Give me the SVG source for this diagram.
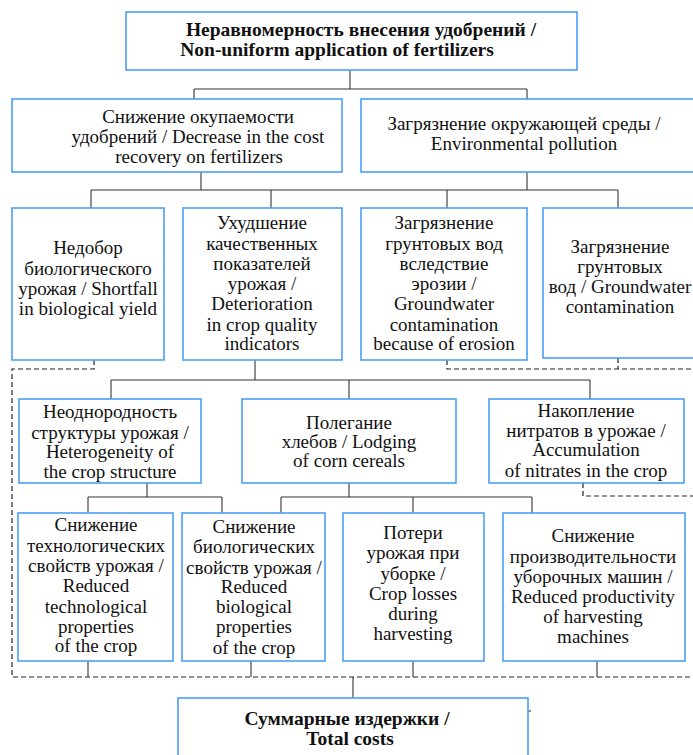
<svg xmlns="http://www.w3.org/2000/svg" width="693" height="755" viewBox="0 0 693 755">
<style>
.box{fill:#fff;stroke:#4a9ff5;stroke-width:1.6}
.t{font-family:"Liberation Serif","Times New Roman",Tinos,"DejaVu Serif",serif;font-size:19px;fill:#111;text-anchor:middle}
.b{font-weight:bold;font-size:19.5px}
.ln{stroke:#333;stroke-width:1.1;fill:none}
.ds{stroke:#222;stroke-width:1.2;fill:none;stroke-dasharray:5,3}
</style>
<rect width="693" height="755" fill="#fff"/>
<g id="connectors">
<path class="ln" d="M350,70V89M194,89H527M194,89V99M527,89V99"/>
<path class="ln" d="M201,172V190M527,172V190M91,190H618M91,190V208M271,190V208M447,190V208M618,190V208"/>
<path class="ln" d="M255,360V380M111,380H590M111,380V399M349,380V399M590,380V399"/>
<path class="ln" d="M147,483V497M88,497H222M88,497V513M222,497V513"/>
<path class="ln" d="M349,483V497M281,497H532M281,497V513M413,497V513M532,497V513"/>
<path class="ln" d="M88,661V677M251,661V677M413,661V677M597,661V677M353,677V698"/>
<path class="ds" d="M94,360V369H12V677H693"/>
<path class="ds" d="M447,360V369H693M618,358V369"/>
<path class="ds" d="M583,483V496H693"/>
<path class="ln" d="M527,711H531"/>
</g>
<g id="n_top">
<rect class="box" x="126" y="12" width="451" height="58"/>
<text class="t b" x="361" y="36">Неравномерность внесения удобрений /</text>
<text class="t b" x="337" y="56">Non-uniform application of fertilizers</text>
</g>
<g id="n_cost">
<rect class="box" x="12" y="99" width="330" height="73"/>
<text class="t" x="198" y="123">Снижение окупаемости</text>
<text class="t" x="198" y="143">удобрений / Decrease in the cost</text>
<text class="t" x="199" y="163">recovery on fertilizers</text>
</g>
<g id="n_env">
<rect class="box" x="361" y="99" width="345" height="73"/>
<text class="t" x="524" y="130">Загрязнение окружающей среды /</text>
<text class="t" x="524" y="150">Environmental pollution</text>
</g>
<g id="n_shortfall">
<rect class="box" x="12" y="208" width="152" height="152"/>
<text class="t" x="88" y="254">Недобор</text>
<text class="t" x="88" y="275">биологического</text>
<text class="t" x="88" y="295">урожая / Shortfall</text>
<text class="t" x="88" y="315">in biological yield</text>
</g>
<g id="n_quality">
<rect class="box" x="183" y="208" width="159" height="152"/>
<text class="t" x="262" y="229">Ухудшение</text>
<text class="t" x="262" y="250">качественных</text>
<text class="t" x="262" y="270">показателей</text>
<text class="t" x="262" y="290">урожая /</text>
<text class="t" x="262" y="310">Deterioration</text>
<text class="t" x="262" y="331">in crop quality</text>
<text class="t" x="262" y="350">indicators</text>
</g>
<g id="n_erosion">
<rect class="box" x="361" y="208" width="166" height="152"/>
<text class="t" x="444" y="229">Загрязнение</text>
<text class="t" x="444" y="250">грунтовых вод</text>
<text class="t" x="444" y="270">вследствие</text>
<text class="t" x="444" y="290">эрозии /</text>
<text class="t" x="444" y="310">Groundwater</text>
<text class="t" x="444" y="331">contamination</text>
<text class="t" x="444" y="350">because of erosion</text>
</g>
<g id="n_groundwater">
<rect class="box" x="543" y="208" width="160" height="150"/>
<text class="t" x="620" y="253">Загрязнение</text>
<text class="t" x="620" y="273">грунтовых</text>
<text class="t" x="620" y="293">вод / Groundwater</text>
<text class="t" x="620" y="313">contamination</text>
</g>
<g id="n_hetero">
<rect class="box" x="19" y="399" width="182" height="84"/>
<text class="t" x="110" y="418">Неоднородность</text>
<text class="t" x="110" y="439">структуры урожая /</text>
<text class="t" x="110" y="458">Heterogeneity of</text>
<text class="t" x="110" y="478">the crop structure</text>
</g>
<g id="n_lodging">
<rect class="box" x="242" y="399" width="214" height="84"/>
<text class="t" x="349" y="429">Полегание</text>
<text class="t" x="349" y="448">хлебов / Lodging</text>
<text class="t" x="349" y="467">of corn cereals</text>
</g>
<g id="n_nitrates">
<rect class="box" x="489" y="399" width="195" height="84"/>
<text class="t" x="586" y="417">Накопление</text>
<text class="t" x="586" y="437">нитратов в урожае /</text>
<text class="t" x="586" y="456">Accumulation</text>
<text class="t" x="586" y="477">of nitrates in the crop</text>
</g>
<g id="n_tech">
<rect class="box" x="18" y="513" width="155" height="148"/>
<text class="t" x="96" y="531">Снижение</text>
<text class="t" x="96" y="552">технологических</text>
<text class="t" x="96" y="572">свойств урожая /</text>
<text class="t" x="96" y="592">Reduced</text>
<text class="t" x="96" y="613">technological</text>
<text class="t" x="96" y="633">properties</text>
<text class="t" x="96" y="652">of the crop</text>
</g>
<g id="n_bio">
<rect class="box" x="182" y="513" width="143" height="148"/>
<text class="t" x="254" y="533">Снижение</text>
<text class="t" x="254" y="553">биологических</text>
<text class="t" x="254" y="574">свойств урожая /</text>
<text class="t" x="254" y="593">Reduced</text>
<text class="t" x="254" y="613">biological</text>
<text class="t" x="254" y="633">properties</text>
<text class="t" x="254" y="654">of the crop</text>
</g>
<g id="n_losses">
<rect class="box" x="343" y="513" width="141" height="148"/>
<text class="t" x="413" y="539">Потери</text>
<text class="t" x="413" y="559">урожая при</text>
<text class="t" x="413" y="580">уборке /</text>
<text class="t" x="413" y="600">Crop losses</text>
<text class="t" x="413" y="620">during</text>
<text class="t" x="413" y="640">harvesting</text>
</g>
<g id="n_machines">
<rect class="box" x="503" y="513" width="182" height="148"/>
<text class="t" x="593" y="542">Снижение</text>
<text class="t" x="593" y="563">производительности</text>
<text class="t" x="593" y="583">уборочных машин /</text>
<text class="t" x="593" y="603">Reduced productivity</text>
<text class="t" x="593" y="623">of harvesting</text>
<text class="t" x="593" y="643">machines</text>
</g>
<g id="n_total">
<rect class="box" x="178" y="698" width="350" height="70"/>
<text class="t b" x="347" y="725">Суммарные издержки /</text>
<text class="t b" x="350" y="745">Total costs</text>
</g>
</svg>
